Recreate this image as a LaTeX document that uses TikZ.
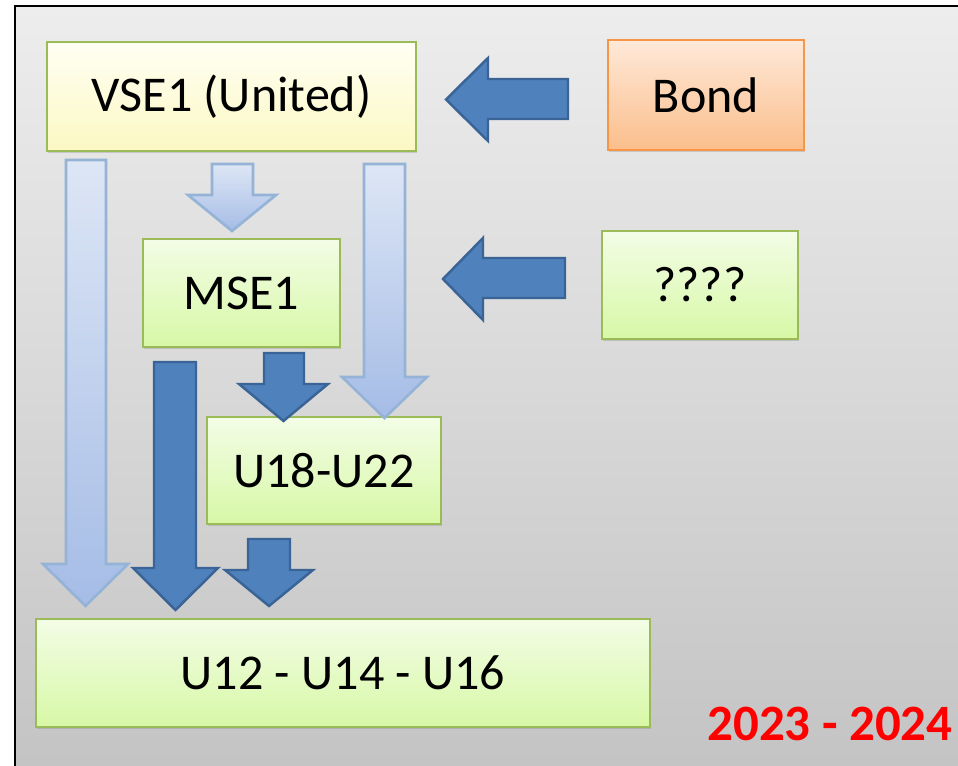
\documentclass[tikz,border=0pt]{standalone}
\usepackage{fontspec}
\setmainfont{Carlito}
\usetikzlibrary{shadows}
\definecolor{bgtop}{HTML}{EDEDED}
\definecolor{bgbot}{HTML}{C2C2C2}
\definecolor{gtop}{HTML}{F3FDE6}
\definecolor{gbot}{HTML}{D7F8A6}
\definecolor{ytop}{HTML}{FFFFF4}
\definecolor{ybot}{HTML}{FBF8C2}
\definecolor{otop}{HTML}{FEE9D9}
\definecolor{obot}{HTML}{FBBE8B}
\definecolor{gborder}{HTML}{9BBB59}
\definecolor{oborder}{HTML}{F79646}
\definecolor{latop}{HTML}{DDE6F5}
\definecolor{labot}{HTML}{A5BCE6}
\definecolor{laborder}{HTML}{95B3D7}
\definecolor{dafill}{HTML}{4F81BD}
\definecolor{daborder}{HTML}{3A6496}
\newcommand\DownBlk[8]{%
  \path[#1] (#2,#4) -- (#3,#4) -- (#3,#7) -- (#6,#7) -- ({(#5+#6)/2},#8) -- (#5,#7) -- (#2,#7) -- cycle;}
\newcommand\LeftBlk[8]{%
  \path[#1] (#2,#3) -- (#5,#3) -- (#5,#6) -- (#8,{(#6+#7)/2}) -- (#5,#7) -- (#5,#4) -- (#2,#4) -- cycle;}
\tikzset{
  box/.style={line width=1.1pt, text=black, inner sep=0pt,
    font=\fontsize{28.5}{32}\selectfont,
    drop shadow={shadow xshift=0.7pt, shadow yshift=-1.3pt, opacity=0.3}},
  greenbox/.style={box, draw=gborder, top color=gtop, bottom color=gbot},
  yellowbox/.style={box, draw=gborder, top color=ytop, bottom color=ybot},
  orangebox/.style={box, draw=oborder, top color=otop, bottom color=obot},
  lightarrow/.style={draw=laborder, line width=1.5pt, top color=latop, bottom color=labot, line join=miter},
  darkarrow/.style={draw=daborder, line width=1.4pt, fill=dafill, line join=miter},
  yearlabel/.style={text=red, inner sep=0pt, anchor=base west, font=\fontsize{29}{33}\selectfont\bfseries}
}
\begin{document}
\begin{tikzpicture}[x=0.02cm,y=-0.02cm]
\useasboundingbox[fill=white] (0,0) rectangle (958,766);
\clip (0,0) rectangle (958,766);
\path[draw=black, line width=1.2pt, top color=bgtop, bottom color=bgbot] (15,6) rectangle (1000,800);

% boxes
\node[yellowbox, minimum width=7.38cm, minimum height=2.18cm] (vse) at (231.5,96.5) {VSE1 (United)};
\node[orangebox, minimum width=3.92cm, minimum height=2.2cm] (bond) at (706,95) {Bond};
\node[greenbox, minimum width=3.92cm, minimum height=2.16cm] (unk) at (700,285) {????};
\node[greenbox, minimum width=3.94cm, minimum height=2.16cm] (mse) at (241.5,293) {MSE1};
\node[greenbox, minimum width=4.68cm, minimum height=2.14cm] (u18) at (324,470.5) {U18-U22};
\node[greenbox, minimum width=12.28cm, minimum height=2.16cm] (u12) at (343,673) {U12 - U14 - U16};

% light arrows from VSE1
\DownBlk{lightarrow}{66}{106}{160}{43}{128}{564}{606}
\DownBlk{lightarrow}{212}{253}{164}{188}{276}{195}{231}
\DownBlk{lightarrow}{364}{405}{164}{342}{427}{377}{418}

% dark arrows
\DownBlk{darkarrow}{264}{304}{353}{239}{328}{384}{421}
\DownBlk{darkarrow}{154}{196}{362}{133}{218}{568}{610}
\DownBlk{darkarrow}{248}{290}{539}{225}{313}{570}{606}

% left arrows
\LeftBlk{darkarrow}{568}{79}{119}{488}{58}{141}{446}
\LeftBlk{darkarrow}{565}{258}{298}{483}{238}{320}{443}

\node[yearlabel] (year) at (707,741) {2023 - 2024};
\end{tikzpicture}
\end{document}
